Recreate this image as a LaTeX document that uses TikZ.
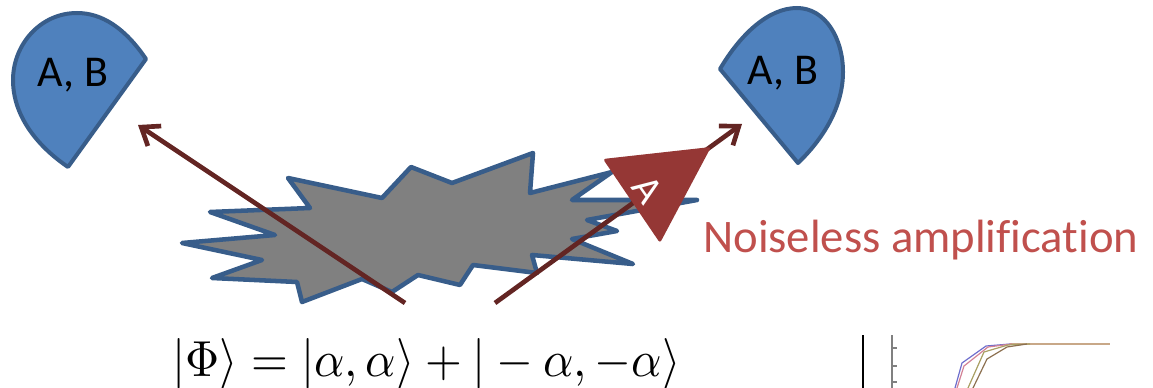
\documentclass[tikz,border=0pt]{standalone}
\usepackage{fontspec}
\setmainfont{Carlito}[Ligatures=NoCommon]
\usetikzlibrary{arrows.meta}
\definecolor{shieldfill}{HTML}{4F81BD}
\definecolor{shieldline}{HTML}{385D8A}
\definecolor{noisefill}{HTML}{808080}
\definecolor{arrowcol}{HTML}{632523}
\definecolor{ampfill}{HTML}{953735}
\definecolor{amptext}{HTML}{C0504D}
\tikzset{
  shield/.style={fill=shieldfill, draw=shieldline, line width=3pt, line join=round},
  noise/.style={fill=noisefill, draw=shieldline, line width=3.4pt, line join=round},
  beam/.style={draw=arrowcol, line width=3.5pt, -{Straight Barb[length=12pt,width=18pt]}},
  labelAB/.style={font=\fontsize{33}{40}\selectfont, text=black, inner sep=0pt},
  axisline/.style={draw=gray, line width=0.8pt},
}
\begin{document}
\begin{tikzpicture}[x=0.75pt,y=-0.75pt]
\useasboundingbox (0,0) rectangle (1153,388);
% detectors
\draw[shield] (68,167) -- (146,59) .. controls (125,28) and (102,13) .. (77,13)
  .. controls (40,13) and (13,45) .. (13,80) .. controls (13,118) and (40,148) .. cycle;
\node[labelAB] (abL) at (73,75) {A, B};
\draw[shield] (798,163) -- (720,69) .. controls (740,35) and (768,8) .. (797,8)
  .. controls (825,8) and (843,38) .. (843,72) .. controls (843,108) and (822,140) .. cycle;
\node[labelAB] (abR) at (783,73) {A, B};
% noise
\draw[noise] (288,178) -- (382,198) -- (411,167) -- (452,183) -- (533,153) -- (530,193)
 -- (612,172) -- (572,200) -- (697,200) -- (587,220) -- (617,231) -- (572,239)
 -- (633,264) -- (532,255) -- (537,273) -- (473,265) -- (460,285) -- (418,275)
 -- (392,292) -- (362,279) -- (302,302) -- (297,282) -- (212,278) -- (262,260)
 -- (182,243) -- (275,235) -- (210,212) -- (310,208) -- cycle;
% beams
\coordinate (srcL) at (405,303);
\coordinate (dstL) at (138,125);
\coordinate (srcR) at (495,303);
\coordinate (dstR) at (742,124);
\draw[beam] (srcL) -- (dstL);
\draw[beam] (srcR) -- (dstR);
% amplifier
\fill[ampfill, rounded corners=2pt] (603,159) -- (711,147) -- (660,243) -- cycle;
\node[rotate=-55, text=white, font=\fontsize{30}{36}\selectfont, inner sep=0pt] (ampA) at (648,190) {A};
\node[anchor=base west, text=amptext, font=\fontsize{35}{42}\selectfont, inner sep=0pt] (amp) at (703,253) {Noiseless amplification};
% equation
\node[anchor=base west, inner sep=0pt] (eq) at (172,376) {\scalebox{3.55}[3.8]{$|\Phi\rangle = |\alpha,\alpha\rangle + |-\alpha,-\alpha\rangle$}};
% plot fragment
\coordinate (ax0) at (863,335);
\coordinate (ax1) at (863,388);
\draw[black, line width=1.1pt] (ax0) -- (ax1);
\coordinate (ay0) at (892,335);
\coordinate (ay1) at (892,388);
\draw[axisline] (ay0) -- (ay1);
\draw[axisline] (892,348) -- (897,348) (892,366) -- (897,366) (892,382) -- (897,382);
\draw[color={rgb,255:red,200;green,168;blue,136}, line width=1pt] (1010,344) -- (1110,344);
\draw[color={rgb,255:red,110;green,110;blue,205}, line width=0.9pt] (955,388) -- (962,363) -- (986,346) -- (1010,344);
\draw[color={rgb,255:red,210;green,130;blue,150}, line width=0.9pt] (957,388) -- (964,366) -- (988,347) -- (1012,344);
\draw[color={rgb,255:red,170;green,160;blue,100}, line width=0.9pt] (968,388) -- (984,352) -- (1008,345) -- (1030,344);
\draw[color={rgb,255:red,140;green,112;blue,80}, line width=0.9pt] (973,388) -- (987,359) -- (1007,347) -- (1027,344);
\end{tikzpicture}
\end{document}
